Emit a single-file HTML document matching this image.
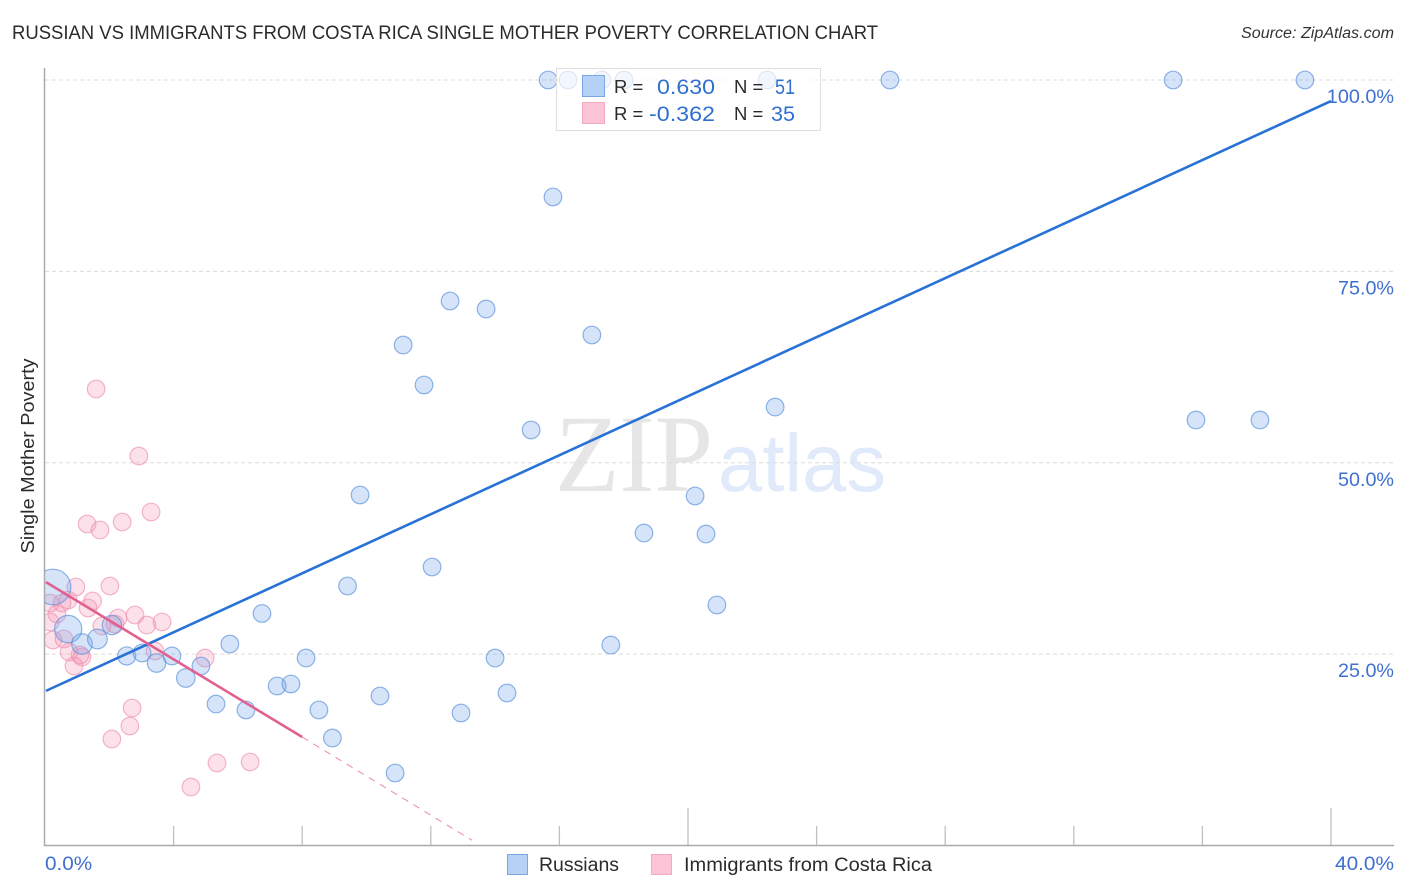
<!DOCTYPE html>
<html lang="en">
<head>
<meta charset="utf-8">
<title>Russian vs Immigrants from Costa Rica Single Mother Poverty Correlation Chart</title>
<style>
html,body{margin:0;padding:0;background:#fff;width:1406px;height:892px;overflow:hidden}
svg{display:block;font-family:"Liberation Sans",sans-serif}
</style>
</head>
<body>
<svg id="chart" xmlns="http://www.w3.org/2000/svg" width="1406" height="892" viewBox="0 0 1406 892">
  <defs><clipPath id="plot-clip"><rect x="45" y="60" width="1349" height="786"/></clipPath></defs>
  <rect width="1406" height="892" fill="#fff"/>
  <text x="12" y="39" font-size="19" fill="#2b2b2b" textLength="866" lengthAdjust="spacingAndGlyphs">RUSSIAN VS IMMIGRANTS FROM COSTA RICA SINGLE MOTHER POVERTY CORRELATION CHART</text>
  <text x="1241" y="38" font-size="15.5" font-style="italic" fill="#333" textLength="153" lengthAdjust="spacingAndGlyphs">Source: ZipAtlas.com</text>
  <g>
    <text x="555" y="491" font-family="'Liberation Serif',serif" font-size="110" fill="#e6e6e6" textLength="158" lengthAdjust="spacingAndGlyphs">ZIP</text>
    <text x="718" y="491" font-size="82" fill="#e0eafa" textLength="168" lengthAdjust="spacingAndGlyphs">atlas</text>
  </g>
  <g id="grid"></g>
  <g id="axes"></g>
  <g id="points" clip-path="url(#plot-clip)"></g>
  <g id="trends"></g>
  <text transform="translate(34,456) rotate(-90)" font-size="18.5" fill="#2b2b2b" text-anchor="middle" textLength="195" lengthAdjust="spacingAndGlyphs">Single Mother Poverty</text>

  <g>
    <rect x="556.5" y="68.5" width="264" height="62" fill="#fff" fill-opacity="0.7" stroke="#dedede" stroke-width="1"/>
    <rect x="582.5" y="75.5" width="22" height="21" fill="#b5d2f6" stroke="#7aa6e3"/>
    <rect x="582.5" y="102.5" width="22" height="21" fill="#fcc4d6" stroke="#f3a9c0"/>
    <text x="614" y="93" font-size="18.5" fill="#2b2b2b">R =</text>
    <text x="657" y="94" font-size="21" fill="#2f6fcf" textLength="58" lengthAdjust="spacingAndGlyphs">0.630</text>
    <text x="734" y="93" font-size="18.5" fill="#2b2b2b">N =</text>
    <text x="775" y="94" font-size="21" fill="#2f6fcf" textLength="20" lengthAdjust="spacingAndGlyphs">51</text>
    <text x="614" y="120" font-size="18.5" fill="#2b2b2b">R =</text>
    <text x="649" y="121" font-size="21" fill="#2f6fcf" textLength="66" lengthAdjust="spacingAndGlyphs">-0.362</text>
    <text x="734" y="120" font-size="18.5" fill="#2b2b2b">N =</text>
    <text x="771" y="121" font-size="21" fill="#2f6fcf" textLength="24" lengthAdjust="spacingAndGlyphs">35</text>
  </g>

  <g>
    <rect x="507.5" y="854.5" width="20" height="20" fill="#b5d2f6" stroke="#7aa6e3"/>
    <text x="539" y="871" font-size="19" fill="#2b2b2b" textLength="80" lengthAdjust="spacingAndGlyphs">Russians</text>
    <rect x="651.5" y="854.5" width="20" height="20" fill="#fcc4d6" stroke="#f3a9c0"/>
    <text x="684" y="871" font-size="19" fill="#2b2b2b" textLength="248" lengthAdjust="spacingAndGlyphs">Immigrants from Costa Rica</text>
  </g>
</svg>
<script>
const yTickValues = [25, 50, 75, 100];
const yTickLabels = ["25.0%", "50.0%", "75.0%", "100.0%"];
const xTickValues = [4, 8, 12, 16, 20, 24, 28, 32, 36, 40];
const xMajorTicks = [20, 40];
const xEndLabels = ["0.0%", "40.0%"];
const xEndValues = [0, 40];

const russianX = [15.65,16.27,17.32,18.01,22.46,26.28,35.09,39.19,15.80,12.60,13.72,17.01,11.14,11.79,22.71,35.80,37.79,15.12,9.80,20.22,18.63,20.56,12.04,9.41,20.90,6.75,0.25,0.72,1.15,1.63,2.08,2.54,3.02,3.47,3.95,4.38,4.85,5.75,8.12,17.60,14.00,7.22,7.65,5.32,6.25,8.52,10.42,14.37,12.94,8.94,10.89];
const russianY = [100,100,100,100,100,100,100,100,84.72,71.13,70.08,66.69,65.38,60.16,57.28,55.58,55.58,54.28,45.79,45.66,40.82,40.69,36.38,33.90,31.42,30.31,33.77,28.28,26.32,26.98,28.80,24.76,25.15,23.84,24.76,21.88,23.45,26.32,24.49,26.19,24.49,20.84,21.10,18.48,17.70,17.70,19.53,19.92,17.31,14.04,9.47];
const russianPop = [1,1,1,1,1,1,1,1,1,1,1,1,1,1,1,1,1,1,1,1,1,1,1,1,1,1,4.1,2.4,1.36,1.25,1.2,1.05,1,1.1,1,1.1,1,1,1,1,1,1,1,1,1,1,1,1,1,1,1];

const costaRicaX = [1.59,2.92,3.30,2.40,1.31,1.71,0.96,2.02,1.48,1.34,0.72,0.53,0.16,0.37,0.16,0.25,0.59,0.75,1.15,1.09,0.90,1.77,2.18,2.27,2.80,3.17,3.64,3.42,4.98,2.71,2.64,2.08,5.35,6.38,4.54];
const costaRicaY = [59.63,50.88,43.57,42.26,42.00,41.21,33.77,33.90,31.94,31.03,32.07,31.68,31.68,30.24,29.20,26.85,26.98,25.28,24.62,24.89,23.45,28.67,28.93,29.72,30.11,28.80,29.20,25.41,24.49,17.96,15.61,13.91,10.78,10.91,7.64];

const russianTrendX = [0.03, 40];
const russianTrendY = [20.2, 97.25];
const costaRicaTrendX = [0.03, 8];
const costaRicaTrendY = [34.4, 14.17];
const costaRicaDashX = [8, 13.28];
const costaRicaDashY = [14.17, 0.7];

const NS = "http://www.w3.org/2000/svg";
const xScale = v => 45 + v * 32.15;
const yScale = v => 845.5 - v * 7.655;
const rScale = p => 8.8 * Math.sqrt(p);

function make(tag, attrs, parent) {
  const el = document.createElementNS(NS, tag);
  for (const k in attrs) el.setAttribute(k, attrs[k]);
  parent.appendChild(el);
  return el;
}

const grid = document.getElementById("grid");
const axes = document.getElementById("axes");
const points = document.getElementById("points");
const trends = document.getElementById("trends");

yTickValues.forEach((v, i) => {
  const line = make("line", {x1: 45, x2: 1394, y1: yScale(v), y2: yScale(v), stroke: "#dcdcdc", "stroke-width": 1, "stroke-dasharray": "4 3"}, grid);
  
  
  const label = make("text", {x: 1394, y: yScale(v) + 23, "font-size": 19.5, fill: "#3f6fd0", "text-anchor": "end", textLength: yTickLabels[i].length * 11.2, lengthAdjust: "spacingAndGlyphs"}, axes);
  
  
  label.textContent = yTickLabels[i];
});

const yAxis = make("line", {x1: 44.5, x2: 44.5, y1: 68, y2: 846, stroke: "#aaa", "stroke-width": 1.5}, axes);


const xAxis = make("line", {x1: 44, x2: 1394, y1: 845.5, y2: 845.5, stroke: "#aaa", "stroke-width": 1.5}, axes);



xTickValues.forEach(v => {
  const top = xMajorTicks.includes(v) ? 808 : 826;
  const tick = make("line", {x1: xScale(v), x2: xScale(v), y1: top, y2: 845, stroke: "#c0c0c0", "stroke-width": 1.3}, axes);
  
  
});

xEndValues.forEach((v, i) => {
  const label = make("text", {x: i === 0 ? xScale(v) : 1335, y: 870, "font-size": 19.5, fill: "#3f6fd0", textLength: xEndLabels[i].length * 11.8, lengthAdjust: "spacingAndGlyphs"}, axes);
  
  
  label.textContent = xEndLabels[i];
});

costaRicaX.forEach((x, i) => {
  const c = make("circle", {cx: xScale(x), cy: yScale(costaRicaY[i]), r: rScale(1), fill: "#f58fb0", "fill-opacity": 0.27, stroke: "#ee8fae", "stroke-opacity": 0.65, "stroke-width": 1.2}, points);
  
  
});

russianX.forEach((x, i) => {
  const c = make("circle", {cx: xScale(x), cy: yScale(russianY[i]), r: rScale(russianPop[i]), fill: "#74a7ea", "fill-opacity": 0.3, stroke: "#5f94dc", "stroke-opacity": 0.7, "stroke-width": 1.2}, points);
  
  
});

const blueTrend = make("line", {x1: xScale(russianTrendX[0]), y1: yScale(russianTrendY[0]), x2: xScale(russianTrendX[1]), y2: yScale(russianTrendY[1]), stroke: "#2872d6", "stroke-width": 2.6}, trends);


const pinkTrend = make("line", {x1: xScale(costaRicaTrendX[0]), y1: yScale(costaRicaTrendY[0]), x2: xScale(costaRicaTrendX[1]), y2: yScale(costaRicaTrendY[1]), stroke: "#e2608f", "stroke-width": 2.6}, trends);


const pinkDash = make("line", {x1: xScale(costaRicaDashX[0]), y1: yScale(costaRicaDashY[0]), x2: xScale(costaRicaDashX[1]), y2: yScale(costaRicaDashY[1]), stroke: "#eb8aac", "stroke-width": 1, "stroke-dasharray": "7 6"}, trends);


</script>
</body>
</html>
